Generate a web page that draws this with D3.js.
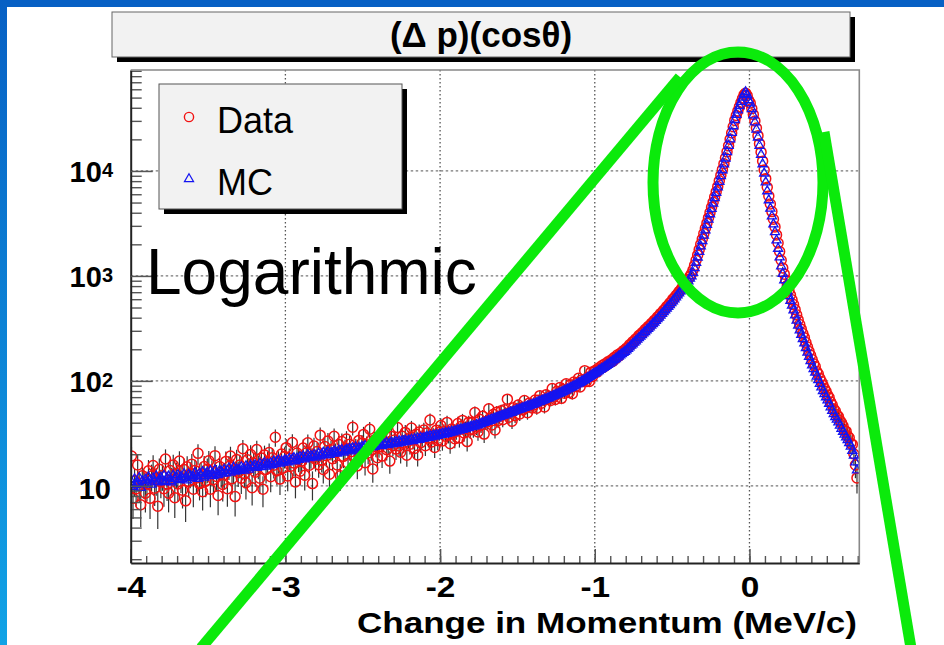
<!DOCTYPE html>
<html>
<head>
<meta charset="utf-8">
<script src="https://cdnjs.cloudflare.com/ajax/libs/d3/7.8.5/d3.min.js"></script>
<style>
  html, body { margin: 0; padding: 0; background: #fff; }
  svg { display: block; font-family: "Liberation Sans", Arial, Helvetica, sans-serif; }
</style>
</head>
<body>
<svg id="chart" width="944" height="645"></svg>
<script>
// histogram binning (-4 .. 0.7 MeV/c, 0.01 wide), one row = 0.1 MeV/c
const binStart = -4.0;
const binWidth = 0.01;

// MC counts per bin (blue triangles)
const mcCounts = [
  10.9, 9.8, 11.6, 10.2, 10.7, 11.9, 9.6, 11.1, 10.4, 11.5,
  10.6, 12.1, 11.3, 10.3, 11.8, 11.0, 12.4, 10.8, 11.5, 12.0,
  11.1, 12.5, 10.9, 11.9, 12.3, 11.2, 10.8, 12.6, 11.7, 12.1,
  12.7, 11.4, 12.2, 11.6, 13.0, 12.0, 11.3, 12.8, 12.4, 11.9,
  12.1, 13.3, 12.6, 11.7, 13.1, 12.4, 13.6, 12.0, 12.9, 13.4,
  12.5, 13.8, 13.0, 12.4, 14.1, 13.2, 12.7, 14.0, 13.6, 13.1,
  14.3, 13.2, 13.9, 14.7, 13.4, 14.0, 15.0, 13.7, 14.4, 14.1,
  13.9, 15.1, 14.5, 14.0, 15.4, 14.8, 14.3, 15.7, 14.9, 15.3,
  15.8, 14.9, 15.4, 16.3, 15.1, 15.9, 16.6, 15.3, 16.1, 15.7,
  16.4, 15.8, 17.1, 16.2, 16.9, 17.5, 16.3, 17.2, 16.7, 17.6,
  17.4, 16.8, 18.1, 17.3, 17.9, 18.5, 17.2, 18.3, 17.7, 18.8,
  18.3, 19.2, 17.9, 18.7, 19.6, 18.4, 19.3, 18.9, 19.8, 18.6,
  19.4, 20.3, 19.1, 19.9, 20.7, 19.6, 20.5, 21.0, 19.8, 20.6,
  20.4, 21.4, 20.9, 20.3, 21.8, 21.1, 22.0, 20.8, 21.6, 22.2,
  21.9, 22.6, 21.4, 22.9, 22.2, 23.3, 21.8, 23.0, 22.7, 23.6,
  23.1, 24.0, 22.8, 23.7, 24.4, 23.3, 24.2, 23.6, 24.8, 24.1,
  24.3, 25.1, 24.0, 25.4, 24.7, 25.8, 24.5, 25.3, 26.0, 25.0,
  25.6, 26.3, 25.4, 26.7, 25.9, 26.9, 26.1, 27.2, 26.4, 26.8,
  26.9, 27.6, 26.7, 28.0, 27.3, 28.4, 27.5, 28.7, 28.1, 28.5,
  28.6, 29.4, 28.8, 29.9, 29.2, 30.3, 29.6, 30.6, 30.0, 30.8,
  30.7, 31.5, 30.9, 32.0, 31.4, 32.3, 31.9, 32.9, 32.4, 33.3,
  33.1, 34.0, 33.6, 34.5, 34.2, 35.1, 34.8, 35.7, 35.5, 36.4,
  36.5, 37.2, 37.0, 38.1, 37.9, 38.8, 38.9, 39.7, 39.9, 40.8,
  41.0, 41.8, 42.0, 43.0, 43.1, 44.0, 44.3, 45.2, 45.5, 46.4,
  46.7, 47.2, 48.0, 48.4, 49.3, 49.8, 50.4, 51.1, 51.7, 52.6,
  53.0, 53.8, 54.3, 55.2, 55.6, 56.5, 57.1, 57.8, 58.6, 59.3,
  60.0, 60.9, 61.7, 62.8, 63.4, 64.5, 65.2, 66.3, 67.1, 68.0,
  68.9, 70.1, 71.0, 72.3, 73.1, 74.4, 75.3, 76.6, 77.5, 78.9,
  80.2, 81.6, 83.1, 84.5, 86.1, 87.6, 89.3, 90.9, 92.7, 94.4,
  96.2, 98.3, 100.4, 102.5, 104.8, 107.1, 109.5, 112.0, 114.5, 117.1,
  118.9, 121.6, 124.5, 127.4, 130.3, 133.4, 136.5, 139.6, 142.9, 146.2,
  150, 154, 158, 162, 167, 171, 176, 180, 185, 190,
  196, 203, 209, 217, 224, 232, 239, 248, 256, 265,
  274, 284, 293, 304, 314, 325, 337, 349, 361, 374,
  388, 403, 419, 436, 453, 472, 490, 510, 530, 551,
  575, 600, 627, 655, 685, 715, 747, 781, 816, 852,
  891, 944, 995, 1072, 1189, 1334, 1503, 1698, 1914, 2158,
  2427, 2729, 3069, 3451, 3881, 4365, 4909, 5521, 6209, 6982,
  7907, 8974, 10186, 11588, 13183, 15136, 17418, 20091, 23174, 26730,
  30690, 34277, 37844, 41687, 45709, 50119, 54325, 56494, 53088, 47315,
  44157, 38905, 33884, 29174, 24831, 20893, 17378, 14289, 11614, 9484,
  7816, 6427, 5272, 4395, 3698, 3112, 2618, 2188, 1820, 1507,
  1239, 1047, 912, 804, 716, 643, 579, 522, 471, 422,
  376, 337, 304, 275, 251, 228, 206, 186, 170, 155,
  141, 130, 120, 110, 102, 94, 87, 80, 75, 70,
  65.3, 60.7, 56.0, 51.9, 48.4, 45.4, 42.9, 40.3, 37.6, 35.1,
  32.7, 30.8, 29.0, 27.4, 25.6, 23.7, 21.6, 19.5, 16.8, 14.1
];

// measured data counts per bin (red circles with error bars)
const dataCounts = [
  19.2, 7.6, 11.2, 9.4, 15.8, 10.1, 6.6, 12.5, 10.8, 8.5,
  10.4, 13.9, 7.6, 12.4, 15.6, 9.5, 11.4, 6.4, 14.4, 10.9,
  12.5, 9.4, 18.0, 10.4, 8.5, 14.0, 11.5, 15.8, 7.7, 13.1,
  10.4, 17.2, 12.0, 9.1, 14.3, 7.2, 15.2, 11.0, 13.1, 16.1,
  9.3, 14.0, 11.9, 20.4, 10.5, 13.0, 8.8, 15.3, 11.1, 14.4,
  17.3, 9.3, 13.8, 11.5, 19.4, 12.3, 8.1, 15.3, 13.2, 10.3,
  12.8, 17.1, 9.4, 15.3, 19.2, 11.7, 14.1, 7.9, 17.8, 13.4,
  15.8, 11.8, 22.6, 13.1, 10.7, 17.7, 14.5, 19.9, 9.6, 16.5,
  13.5, 22.2, 15.5, 11.8, 18.4, 9.3, 19.7, 14.3, 16.9, 20.8,
  12.2, 18.5, 15.7, 29.0, 13.9, 17.2, 11.6, 20.1, 14.7, 19.0,
  23.1, 12.4, 18.4, 15.4, 25.9, 16.5, 10.9, 20.5, 17.7, 13.8,
  17.2, 22.9, 12.6, 20.5, 25.7, 15.7, 18.9, 10.5, 23.9, 17.9,
  21.2, 15.9, 30.4, 17.6, 14.3, 23.7, 19.4, 26.7, 12.9, 22.1,
  18.1, 29.7, 20.8, 15.8, 24.8, 12.5, 26.4, 19.1, 22.7, 27.9,
  16.4, 24.9, 21.1, 36.2, 18.6, 23.1, 15.5, 27.1, 19.8, 25.5,
  30.9, 16.6, 24.6, 20.6, 34.6, 22.0, 14.5, 27.4, 23.6, 18.5,
  23.4, 28.8, 19.2, 26.6, 31.2, 22.1, 24.8, 17.2, 29.5, 24.1,
  27.3, 22.4, 35.9, 24.0, 20.9, 29.7, 25.5, 32.3, 19.6, 28.1,
  24.9, 35.6, 27.4, 22.7, 31.0, 19.7, 32.6, 25.8, 29.0, 34.0,
  24.1, 31.8, 28.5, 42.3, 26.2, 30.3, 23.2, 33.8, 27.0, 32.6,
  37.6, 26.8, 32.9, 29.7, 40.2, 30.9, 25.2, 34.8, 31.9, 28.1,
  33.3, 39.2, 28.5, 36.8, 42.0, 31.9, 35.0, 26.4, 40.3, 34.0,
  39.9, 34.6, 49.9, 36.5, 32.6, 43.0, 38.0, 46.1, 31.1, 41.1,
  40.6, 54.2, 43.7, 38.0, 48.1, 34.1, 50.3, 42.0, 45.9, 52.0,
  42.7, 53.1, 48.1, 67.0, 45.1, 50.6, 41.2, 55.6, 46.6, 53.6,
  58.8, 48.4, 55.4, 53.0, 65.1, 55.4, 49.7, 61.3, 58.6, 55.1,
  58.8, 65.8, 54.9, 65.3, 72.3, 61.3, 65.9, 56.4, 73.8, 67.3,
  71.0, 65.2, 84.5, 70.1, 66.5, 79.6, 75.3, 86.6, 68.2, 82.8,
  76.2, 93.8, 83.1, 77.7, 92.1, 75.3, 97.3, 88.2, 95.5, 105.7,
  87.5, 102.2, 98.4, 125.1, 98.5, 108.2, 98.6, 121.0, 109.9, 123.0,
  126, 121, 133, 130, 139, 134, 145, 141, 152, 150,
  158, 153, 167, 163, 176, 172, 183, 186, 194, 197,
  205, 209, 221, 222, 236, 238, 251, 255, 270, 274,
  287, 291, 308, 313, 329, 333, 352, 359, 377, 385,
  405, 414, 437, 447, 471, 484, 510, 523, 551, 566,
  601, 617, 650, 672, 708, 733, 773, 799, 842, 873,
  930, 990, 1050, 1140, 1260, 1410, 1580, 1780, 2000, 2250,
  2530, 2840, 3180, 3570, 4010, 4500, 5040, 5650, 6330, 7100,
  8050, 9100, 10300, 11700, 13300, 15200, 17400, 20000, 23000, 26400,
  30300, 33800, 37200, 40900, 44800, 49000, 53000, 55100, 52300, 47200,
  44300, 39300, 34500, 29900, 25600, 21700, 18200, 15100, 12400, 10200,
  8450, 6990, 5780, 4850, 4100, 3470, 2930, 2460, 2060, 1710,
  1410, 1190, 1040, 916, 814, 731, 658, 592, 533, 478,
  426, 381, 344, 311, 283, 258, 232, 210, 191, 175,
  160, 146, 137, 123, 116, 106, 98.5, 91.0, 84.6, 79.5,
  73.4, 69.2, 62.8, 58.9, 54.0, 51.7, 47.6, 45.6, 41.9, 39.8,
  37.1, 33.6, 33.0, 29.8, 28.7, 25.4, 24.8, 20.1, 15.8, 11.9
];

const xTickValues = [-4, -3, -2, -1, 0];
const yTickExponents = [1, 2, 3, 4];
const legendLabels = ["Data", "MC"];
const titleText = "(\u0394 p)(cos\u03b8)";
const xAxisTitle = "Change in Momentum (MeV/c)";
const noteText = "Logarithmic";

// Set up the SVG container
const svg = d3.select('#chart');
const width = +svg.attr('width');
const height = +svg.attr('height');
const plot = { left: 130.7, right: 859.3, top: 70, bottom: 563 };

const x = d3.scaleLinear().domain([-4, 0.71]).range([plot.left, plot.right]);
const y = d3.scaleLog().domain([1.84, 91600]).range([plot.bottom, plot.top]);

// page background with the blue slide border
const defs = svg.append('defs');
const grad = defs.append('linearGradient').attr('id', 'sideBlue')
  .attr('x1', 0).attr('y1', 0).attr('x2', 0).attr('y2', 1);
grad.append('stop').attr('offset', '0%').attr('stop-color', '#0760c4');
grad.append('stop').attr('offset', '100%').attr('stop-color', '#11a3e6');
defs.append('clipPath').attr('id', 'plotClip').append('rect')
  .attr('x', plot.left).attr('y', plot.top)
  .attr('width', plot.right - plot.left).attr('height', plot.bottom - plot.top);

svg.append('rect').attr('width', width).attr('height', height).attr('fill', '#fff');
svg.append('rect').attr('width', width).attr('height', 7).attr('fill', '#0760c4');
svg.append('rect').attr('width', 7).attr('height', height).attr('fill', 'url(#sideBlue)');

// title box
const tb = { x: 112, y: 12, w: 738, h: 45 };
svg.append('rect').attr('x', tb.x + 5).attr('y', tb.y + 5).attr('width', tb.w).attr('height', tb.h).attr('fill', '#000');
svg.append('rect').attr('x', tb.x).attr('y', tb.y).attr('width', tb.w).attr('height', tb.h)
  .attr('fill', '#f2f2f2').attr('stroke', '#666').attr('stroke-width', 1);
svg.append('text').attr('x', tb.x + tb.w / 2).attr('y', 47)
  .attr('text-anchor', 'middle').attr('font-weight', 'bold').attr('font-size', 35)
  .text(titleText);

// grid lines
const grid = svg.append('g');
grid.selectAll('.gx').data(xTickValues.filter(d => d > -4)).join('line')
  .attr('x1', d => x(d)).attr('x2', d => x(d))
  .attr('y1', plot.top).attr('y2', plot.bottom)
  .attr('stroke', '#555').attr('stroke-width', 1.3).attr('stroke-dasharray', '1.5,2.5');
grid.selectAll('.gy').data(yTickExponents).join('line')
  .attr('x1', plot.left).attr('x2', plot.right)
  .attr('y1', d => y(Math.pow(10, d))).attr('y2', d => y(Math.pow(10, d)))
  .attr('stroke', '#777').attr('stroke-width', 1.3).attr('stroke-dasharray', '2.5,2.5');

// histogram points
const bins = mcCounts.map((mc, i) => ({
  x: binStart + binWidth * (i + 0.5),
  mc: mc,
  data: dataCounts[i]
}));

const marks = svg.append('g').attr('clip-path', 'url(#plotClip)');
marks.selectAll('.err').data(bins).join('line')
  .attr('x1', d => x(d.x)).attr('x2', d => x(d.x))
  .attr('y1', d => y(d.data + Math.sqrt(d.data)))
  .attr('y2', d => y(Math.max(d.data - Math.sqrt(d.data), 0.5)))
  .attr('stroke', '#111').attr('stroke-width', 1.2).attr('opacity', 0.85);
marks.selectAll('.dat').data(bins).join('circle')
  .attr('cx', d => x(d.x)).attr('cy', d => y(d.data)).attr('r', 5)
  .attr('fill', 'none').attr('stroke', '#f21212').attr('stroke-width', 1.5);
const tri = d3.symbol(d3.symbolTriangle).size(36);
marks.selectAll('.mc').data(bins).join('path')
  .attr('d', tri)
  .attr('transform', d => `translate(${x(d.x)},${y(d.mc)})`)
  .attr('fill', 'none').attr('stroke', '#1414f2').attr('stroke-width', 1.3);

// axes, ROOT style ticks pointing inwards
const xMinor = d3.range(-40, 8).map(k => k / 10);
svg.append('g').attr('transform', `translate(0,${plot.bottom})`)
  .call(d3.axisBottom(x).tickValues(xMinor).tickSizeInner(-7).tickSizeOuter(0).tickFormat(''))
  .call(g => g.select('.domain').remove())
  .selectAll('line').attr('stroke', '#555').attr('stroke-width', 1.4);
const xAxis = svg.append('g').attr('transform', `translate(0,${plot.bottom})`)
  .call(d3.axisBottom(x).tickValues(xTickValues).tickSizeInner(-14).tickSizeOuter(0)
    .tickPadding(13.5).tickFormat(d => String(d)));
xAxis.select('.domain').attr('stroke', '#222').attr('stroke-width', 2);
xAxis.selectAll('line').attr('stroke', '#555').attr('stroke-width', 1.5);
xAxis.selectAll('text')
  .attr('font-family', '"Liberation Sans", Arial, sans-serif')
  .attr('font-size', 29).attr('font-weight', 'bold').attr('fill', '#000')
  .attr('transform', 'scale(1.15,1)');

const yMinor = [];
[0, 1, 2, 3, 4].forEach(e => {
  for (let m = 2; m <= 9; m++) {
    const v = m * Math.pow(10, e);
    if (v > y.domain()[0] && v < y.domain()[1]) yMinor.push(v);
  }
});
svg.append('g').attr('transform', `translate(${plot.left},0)`)
  .call(d3.axisLeft(y).tickValues(yMinor).tickSizeInner(-11).tickSizeOuter(0).tickFormat(''))
  .call(g => g.select('.domain').remove())
  .selectAll('line').attr('stroke', '#555').attr('stroke-width', 1.4);
const yAxis = svg.append('g').attr('transform', `translate(${plot.left},0)`)
  .call(d3.axisLeft(y).tickValues(yTickExponents.map(e => Math.pow(10, e)))
    .tickSizeInner(-22).tickSizeOuter(0).tickFormat(''));
yAxis.select('.domain').attr('stroke', '#222').attr('stroke-width', 2);
yAxis.selectAll('line').attr('stroke', '#555').attr('stroke-width', 1.5);

// frame top and right
svg.append('path')
  .attr('d', `M${plot.left},${plot.top}H${plot.right}V${plot.bottom}`)
  .attr('fill', 'none').attr('stroke', '#888').attr('stroke-width', 1.6);

// y tick labels 10, 10^2 ...
const yLabels = svg.append('g').attr('font-weight', 'bold').attr('fill', '#000');
yTickExponents.forEach(e => {
  const yy = y(Math.pow(10, e));
  const t = yLabels.append('text').attr('text-anchor', 'end');
  if (e === 1) {
    t.attr('x', 111).attr('y', yy + 13).attr('font-size', 29).text('10');
  } else {
    t.attr('x', 113).attr('y', yy + 11);
    t.append('tspan').attr('font-size', 29).text('10');
    t.append('tspan').attr('font-size', 20).attr('dy', -5).text(String(e));
  }
});

// x axis title
svg.append('text').attr('x', 857).attr('y', 633).attr('text-anchor', 'end')
  .attr('font-weight', 'bold').attr('font-size', 30)
  .attr('textLength', 500).attr('lengthAdjust', 'spacingAndGlyphs')
  .text(xAxisTitle);

// legend
const lg = { x: 159, y: 84, w: 243, h: 125 };
svg.append('rect').attr('x', lg.x + 5).attr('y', lg.y + 5).attr('width', lg.w).attr('height', lg.h).attr('fill', '#000');
svg.append('rect').attr('x', lg.x).attr('y', lg.y).attr('width', lg.w).attr('height', lg.h)
  .attr('fill', '#f2f2f2').attr('stroke', '#555').attr('stroke-width', 1);
const rowY = [117, 179];
svg.append('circle').attr('cx', 189).attr('cy', rowY[0]).attr('r', 4.6)
  .attr('fill', 'none').attr('stroke', '#f21212').attr('stroke-width', 1.4);
svg.append('path').attr('d', tri).attr('transform', `translate(189,${rowY[1]})`)
  .attr('fill', 'none').attr('stroke', '#1414f2').attr('stroke-width', 1.2);
svg.selectAll('.lgText').data(legendLabels).join('text')
  .attr('x', 217).attr('y', (d, i) => rowY[i] + 16)
  .attr('font-size', 36).attr('fill', '#000')
  .text(d => d);

// annotation text
svg.append('text').attr('x', 146).attr('y', 294)
  .attr('font-size', 64).attr('fill', '#000').text(noteText);

// green highlight: ellipse round the peak and the two zoom lines
const green = svg.append('g').attr('fill', 'none').attr('stroke', '#0bea0b')
  .attr('stroke-width', 11).attr('stroke-linecap', 'butt');
green.append('ellipse').attr('cx', 738).attr('cy', 182.5).attr('rx', 85).attr('ry', 130.5);
green.append('line').attr('x1', 201).attr('y1', 648).attr('x2', 680).attr('y2', 77);
green.append('line').attr('x1', 824).attr('y1', 132).attr('x2', 911).attr('y2', 648);
</script>
</body>
</html>
